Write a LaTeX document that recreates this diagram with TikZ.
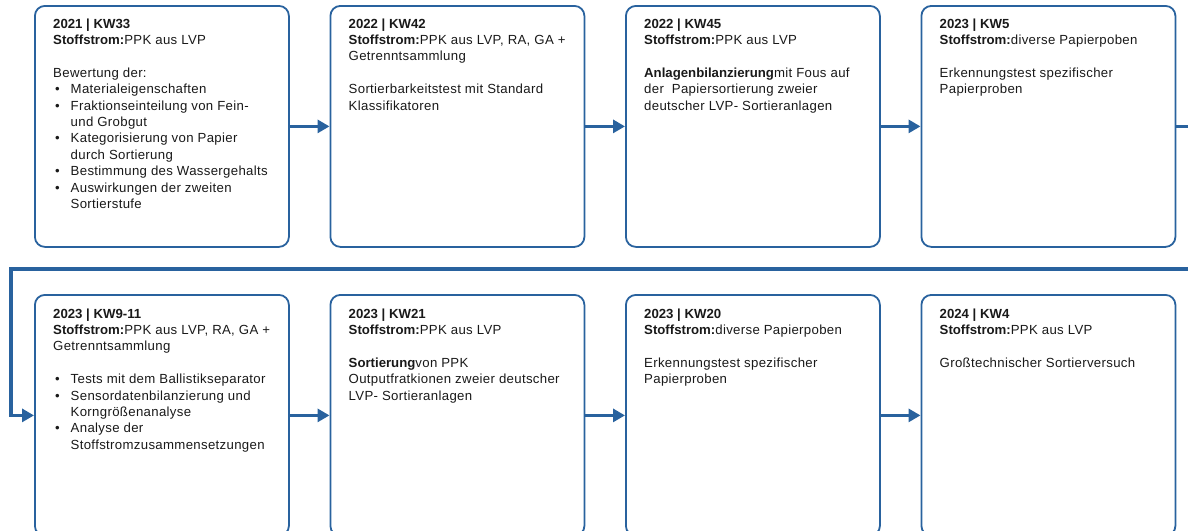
\documentclass[tikz,border=0pt]{standalone}
\usepackage{fontspec}
\setmainfont{Liberation Sans}[LetterSpace=2.5, BoldFeatures={LetterSpace=0}]
\usetikzlibrary{arrows.meta}

\definecolor{flowblue}{RGB}{41,98,158}
\definecolor{txt}{RGB}{25,25,25}

% bold lead-in, bullet marker and hanging indent for card texts
\newcommand{\hd}[1]{\textbf{#1}}
\newcommand{\blt}{\makebox[17.5pt][l]{\hspace{2pt}\textbullet}}
\newcommand{\ind}{\hspace*{17.5pt}}
\newcommand{\cardtext}[1]{\parbox[t]{240pt}{\fontsize{13.2pt}{16.4pt}\selectfont\raggedright #1}}

\begin{document}
\begin{tikzpicture}[x=1pt,y=-1pt,
  card/.style={draw=flowblue, line width=1.8pt, rounded corners=10pt,
    minimum width=254pt, minimum height=241pt, inner sep=0pt, anchor=north west},
  flow/.style={draw=flowblue, line width=3.8pt, line join=miter,
    -{Triangle[length=12pt,width=13pt]}},
  body/.style={anchor=base west, inner sep=0pt, text=txt}]
\useasboundingbox (0,0) rectangle (1188,530);
\clip (0,0) rectangle (1188,530);

% cards, top row
\node[card] (b1) at (34,5) {};
\node[card] (b2) at (329.5,5) {};
\node[card] (b3) at (625,5) {};
\node[card] (b4) at (920.5,5) {};
% cards, bottom row
\node[card] (b5) at (34,294) {};
\node[card] (b6) at (329.5,294) {};
\node[card] (b7) at (625,294) {};
\node[card] (b8) at (920.5,294) {};

% card texts
\node[body] (t1) at ([shift={(19,23)}]b1.north west) {\cardtext{%
\hd{2021 | KW33}\\
\hd{Stoffstrom:}PPK aus LVP\\[16.4pt]
Bewertung der:\\
\blt Materialeigenschaften\\
\blt Fraktionseinteilung von Fein-\\
\ind und Grobgut\\
\blt Kategorisierung von Papier\\
\ind durch Sortierung\\
\blt Bestimmung des Wassergehalts\\
\blt Auswirkungen der zweiten\\
\ind Sortierstufe}};

\node[body] (t2) at ([shift={(19,23)}]b2.north west) {\cardtext{%
\hd{2022 | KW42}\\
\hd{Stoffstrom:}PPK aus LVP, RA, GA +\\
Getrenntsammlung\\[16.4pt]
Sortierbarkeitstest mit Standard\\
Klassifikatoren}};

\node[body] (t3) at ([shift={(19,23)}]b3.north west) {\cardtext{%
\hd{2022 | KW45}\\
\hd{Stoffstrom:}PPK aus LVP\\[16.4pt]
\hd{Anlagenbilanzierung}mit Fous auf\\
der\ \ Papiersortierung zweier\\
deutscher LVP- Sortieranlagen}};

\node[body] (t4) at ([shift={(19,23)}]b4.north west) {\cardtext{%
\hd{2023 | KW5}\\
\hd{Stoffstrom:}diverse Papierpoben\\[16.4pt]
Erkennungstest spezifischer\\
Papierproben}};

\node[body] (t5) at ([shift={(19,24)}]b5.north west) {\cardtext{%
\hd{2023 | KW9-11}\\
\hd{Stoffstrom:}PPK aus LVP, RA, GA +\\
Getrenntsammlung\\[16.4pt]
\blt Tests mit dem Ballistikseparator\\
\blt Sensordatenbilanzierung und\\
\ind Korngrößenanalyse\\
\blt Analyse der\\
\ind Stoffstromzusammensetzungen}};

\node[body] (t6) at ([shift={(19,24)}]b6.north west) {\cardtext{%
\hd{2023 | KW21}\\
\hd{Stoffstrom:}PPK aus LVP\\[16.4pt]
\hd{Sortierung}von PPK\\
Outputfratkionen zweier deutscher\\
LVP- Sortieranlagen}};

\node[body] (t7) at ([shift={(19,24)}]b7.north west) {\cardtext{%
\hd{2023 | KW20}\\
\hd{Stoffstrom:}diverse Papierpoben\\[16.4pt]
Erkennungstest spezifischer\\
Papierproben}};

\node[body] (t8) at ([shift={(19,24)}]b8.north west) {\cardtext{%
\hd{2024 | KW4}\\
\hd{Stoffstrom:}PPK aus LVP\\[16.4pt]
Großtechnischer Sortierversuch}};

% flow connectors
\draw[flow] (b1.east) -- (b2.west);
\draw[flow] (b2.east) -- (b3.west);
\draw[flow] (b3.east) -- (b4.west);
\coordinate (turnR) at (1200,269);
\coordinate (turnL) at (11,269);
\draw[flow] (b4.east) -| (turnR) -- (turnL) |- (b5.west);
\draw[flow] (b5.east) -- (b6.west);
\draw[flow] (b6.east) -- (b7.west);
\draw[flow] (b7.east) -- (b8.west);
\end{tikzpicture}
\end{document}
